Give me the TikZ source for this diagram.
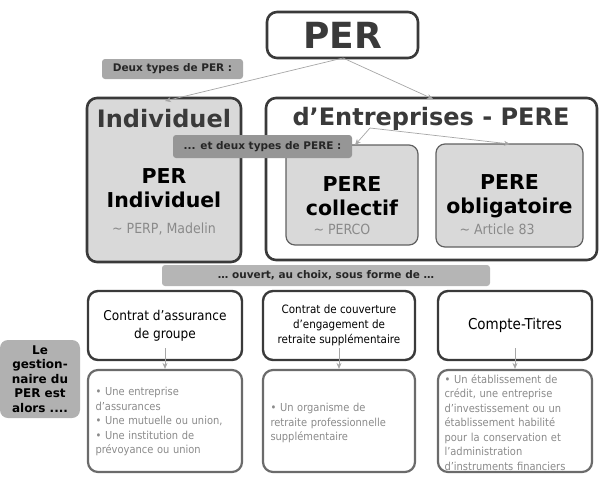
\documentclass[tikz,border=0pt]{standalone}
\usepackage{fontspec}
\setmainfont{DejaVu Sans}
\newfontfamily\cond{DejaVu Sans Condensed}
\usetikzlibrary{arrows.meta}
\definecolor{dk}{HTML}{3A3A3A}
\definecolor{lg}{HTML}{D9D9D9}
\definecolor{mg}{HTML}{A8A8A8}
\definecolor{tg}{HTML}{8A8A8A}
\begin{document}
\begin{tikzpicture}[x=1pt,y=-1pt,
  bx/.style={draw=dk,line width=2.6pt,rounded corners=10pt},
  lbl/.style={fill=mg,rounded corners=3pt,inner sep=0pt,font=\bfseries\fontsize{10.5}{12}\selectfont,text=black!85},
  arr/.style={draw=gray!70,line width=0.7pt,-{Stealth[length=6pt,width=5pt]}},
  small/.style={text=tg,font=\cond\fontsize{11}{14.5}\selectfont,align=left,text width=145pt}]
\useasboundingbox (0,0) rectangle (600,480);
% PER
\node[bx,minimum width=151pt,minimum height=46pt,font=\bfseries\fontsize{36}{40}\selectfont,text=dk] (per) at (342.5,35) {PER};
\node[lbl,minimum width=141pt,minimum height=20pt] (deux) at (172.5,69) {Deux types de PER :};
% big boxes
\node[bx,fill=lg,minimum width=154pt,minimum height=164pt] (ind) at (164,180) {};
\node[bx,fill=white,minimum width=331pt,minimum height=162pt] (ent) at (431.5,179) {};
\node[font=\bfseries\fontsize{24}{28}\selectfont,text=dk] (indt) at (164,119) {Individuel};
\node[font=\bfseries\fontsize{24}{28}\selectfont,text=dk] (entt) at (431,119) {d’Entreprises - PERE};
\node[font=\bfseries\fontsize{20.5}{24}\selectfont,align=center] (peri) at (164,188) {PER\\Individuel};
\node[text=tg,font=\cond\fontsize{14}{16}\selectfont] (peris) at (164,229) {\char`\~{} PERP, Madelin};
% sub boxes
\node[draw=dk!80,line width=1.2pt,fill=lg,rounded corners=9pt,minimum width=132pt,minimum height=100pt] (col) at (352,195) {};
\node[draw=dk!80,line width=1.2pt,fill=lg,rounded corners=9pt,minimum width=147pt,minimum height=103pt] (obl) at (509.5,195.5) {};
\node[font=\bfseries\fontsize{20.5}{24}\selectfont,align=center] (colt) at (352,196) {PERE\\collectif};
\node[font=\bfseries\fontsize{20.5}{24}\selectfont,align=center] (oblt) at (509.5,196) {PERE\\obligatoire};
\node[text=tg,font=\cond\fontsize{14}{16}\selectfont,anchor=west] (cols) at (310,229) {\char`\~{} PERCO};
\node[text=tg,font=\cond\fontsize{14}{16}\selectfont,anchor=west] (obls) at (456,229) {\char`\~{} Article 83};
\coordinate (pb) at (343,58);
\draw[arr] (pb) -- (165,101);
\draw[arr] (pb) -- (433,99);
\coordinate (eb) at (370,128);
\draw[arr] (eb) -- (355,145);
\draw[arr] (eb) -- (510,144);
\node[lbl,fill=tg!90,minimum width=179pt,minimum height=23pt] (etdeux) at (262.5,146.5) {... et deux types de PERE :};
% ouvert
\node[lbl,fill=mg!85,minimum width=328pt,minimum height=21pt] (ouv) at (326,275.5) {… ouvert, au choix, sous forme de …};
% row
\foreach \n/\cx/\w/\t/\f/\g in {a/165/154/{Contrat d’assurance\\de groupe}/13.5/18, b/339/152/{Contrat de couverture\\d’engagement de\\retraite supplémentaire}/11.5/15, c/515/154/{Compte-Titres}/15/18}{
  \node[bx,line width=2.4pt,minimum width=\w pt,minimum height=69pt,align=center,font=\cond\fontsize{\f}{\g}\selectfont] (t\n) at (\cx,325.5) {\t};
  \node[draw=dk!75,line width=2.2pt,rounded corners=10pt,minimum width=\w pt,minimum height=102pt] (l\n) at (\cx,421) {};
  \draw[arr] (\cx,348) -- (l\n.north);
}
\node[small,anchor=north west] (la) at (92,384) {• Une entreprise\\d’assurances\\• Une mutuelle ou union,\\• Une institution de\\prévoyance ou union};
\node[small,anchor=north west] (lb) at (267,400) {• Un organisme de\\retraite professionnelle\\supplémentaire};
\node[small,anchor=north west] (lc) at (441,371) {• Un établissement de\\crédit, une entreprise\\d’investissement ou un\\établissement habilité\\pour la conservation et\\l’administration\\d’instruments financiers};
\node[fill=mg!90,rounded corners=8pt,minimum width=80pt,minimum height=78pt,align=center,font=\bfseries\fontsize{12}{14.5}\selectfont] (gest) at (40,379) {Le\\gestion-\\naire du\\PER est\\alors ....};
\end{tikzpicture}
\end{document}
